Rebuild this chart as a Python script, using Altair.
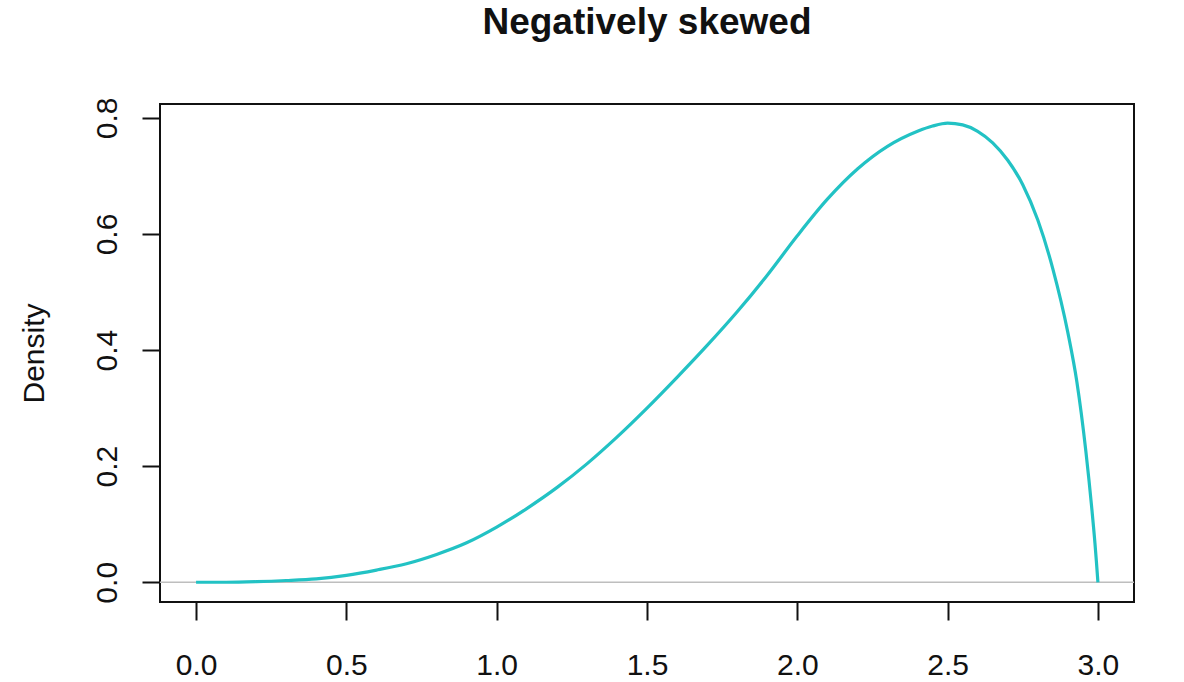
import altair as alt
import pandas as pd

# Density curve of a negatively skewed distribution on [0, 3]
xs = [0.0, 0.1, 0.2, 0.3, 0.4, 0.5, 0.6, 0.7, 0.8, 0.9,
      1.0, 1.1, 1.2, 1.3, 1.4, 1.5, 1.6, 1.7, 1.8, 1.9,
      2.0, 2.1, 2.2, 2.3, 2.4, 2.45, 2.5, 2.55, 2.6, 2.65,
      2.7, 2.75, 2.8, 2.85, 2.9, 2.93, 2.96, 2.98, 2.99, 2.995, 3.0]
ys = [0.000, 0.000, 0.001, 0.003, 0.006, 0.012, 0.021, 0.032, 0.048, 0.068,
      0.095, 0.127, 0.163, 0.204, 0.250, 0.300, 0.353, 0.408, 0.466, 0.529,
      0.597, 0.660, 0.712, 0.751, 0.777, 0.786, 0.791, 0.788, 0.777, 0.757,
      0.727, 0.685, 0.624, 0.540, 0.430, 0.345, 0.225, 0.125, 0.068, 0.035, 0.000]

x_ticks = [0.0, 0.5, 1.0, 1.5, 2.0, 2.5, 3.0]
y_ticks = [0.0, 0.2, 0.4, 0.6, 0.8]

W, H = 974, 498
FONT = "Liberation Sans"
INK = "#111111"

df = pd.DataFrame({"x": xs, "density": ys})

x_scale = alt.Scale(domain=[-0.12, 3.12], nice=False, zero=False)
y_scale = alt.Scale(domain=[-0.034, 0.824], nice=False, zero=False)

x_axis = alt.Axis(
    values=x_ticks, format=".1f", title=None, grid=False, domain=False,
    tickSize=18, tickWidth=2, tickColor=INK,
    labelFont=FONT, labelFontSize=30, labelColor=INK, labelPadding=30,
    labelFlush=False,
)
y_axis = alt.Axis(
    values=y_ticks, format=".1f", title="Density", grid=False, domain=False,
    tickSize=18, tickWidth=2, tickColor=INK,
    labelFont=FONT, labelFontSize=30, labelColor=INK, labelPadding=26,
    labelAngle=270, labelAlign="center", labelBaseline="alphabetic",
    labelFlush=False,
    titleFont=FONT, titleFontSize=30, titleFontWeight="normal", titleColor=INK,
    titleAngle=270, titleAlign="center", titleBaseline="alphabetic",
    titleX=-117, titleY=H / 2,
)

# horizontal reference line at zero density
baseline = alt.Chart(pd.DataFrame({"y": [0.0]})).mark_rule(
    color="#BEBEBE", strokeWidth=1.6
).encode(
    x=alt.value(0), x2=alt.value(W),
    y=alt.Y("y:Q", scale=y_scale, axis=y_axis),
)

curve = alt.Chart(df).mark_line(
    color="#22C2C4", strokeWidth=3.2, interpolate="monotone"
).encode(
    x=alt.X("x:Q", scale=x_scale, axis=x_axis),
    y=alt.Y("density:Q", scale=y_scale, axis=y_axis),
)

chart = alt.layer(baseline, curve).properties(
    width=W, height=H,
    title=alt.TitleParams(
        "Negatively skewed", font=FONT, fontSize=37, fontWeight="bold",
        color=INK, anchor="middle", offset=55,
    ),
    padding={"left": 160, "top": 104, "right": 50, "bottom": 80},
    autosize=alt.AutoSizeParams(type="none"),
).configure(
    background="white"
).configure_view(
    stroke=INK, strokeWidth=2
)

chart.save("out.html", embed_options={"renderer": "svg", "actions": False})
